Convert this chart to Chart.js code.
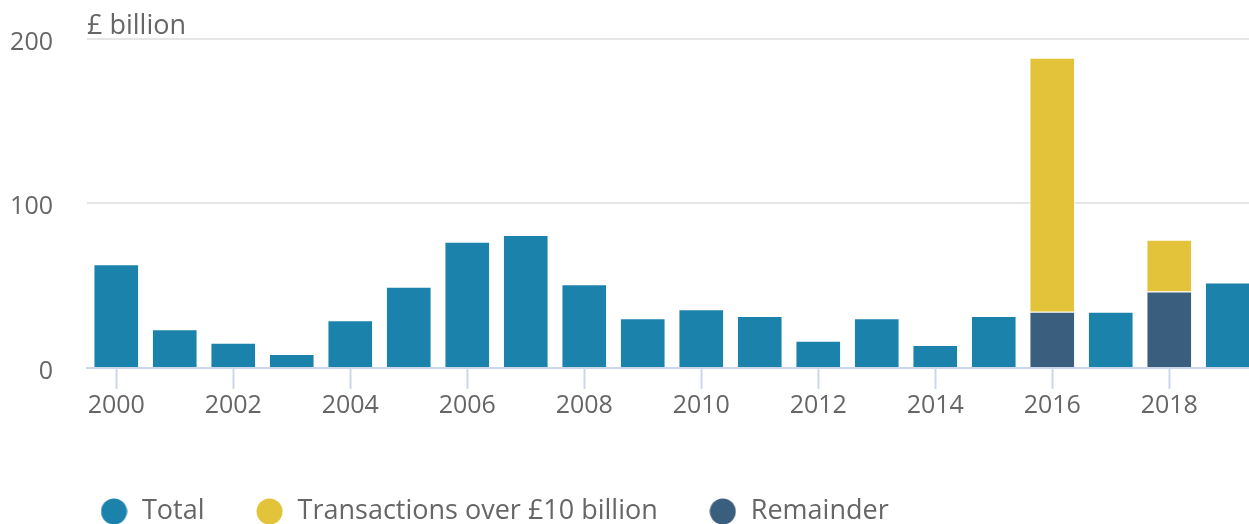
<!DOCTYPE html>
<html>
<head>
<meta charset="utf-8">
<title>£ billion</title>
<script src="https://cdn.jsdelivr.net/npm/chart.js@4.4.1/dist/chart.umd.min.js"></script>
<style>
    html, body { margin: 0; padding: 0; background: #fff; overflow: hidden; }
    #wrap { position: absolute; left: 0; top: 0; width: 1257px; height: 535px; }
</style>
</head>
<body>
<div id="wrap"><canvas id="dealsChart"></canvas></div>
<script>
// ===========================
// Data
// ===========================

const years = ['2000', '2001', '2002', '2003', '2004', '2005', '2006', '2007', '2008', '2009',
               '2010', '2011', '2012', '2013', '2014', '2015', '2016', '2017', '2018', '2019'];

const totalValues = [63, 23.5, 15.3, 8.5, 29, 49.3, 76.6, 80.7, 50.9, 30.2,
                     35.7, 31.6, 16.6, 30.2, 14, 31.6, null, 34.2, null, 51.9];

const bigDealValues = [null, null, null, null, null, null, null, null, null, null,
                       null, null, null, null, null, null, 154.1, null, 31.4, null];

const remainderValues = [null, null, null, null, null, null, null, null, null, null,
                         null, null, null, null, null, null, 34.2, null, 46.4, null];

const xTickLabels = ['2000', '2002', '2004', '2006', '2008', '2010', '2012', '2014', '2016', '2018'];
const yTickValues = [0, 100, 200];

// ===========================
// Chart
// ===========================

const FONT = "'Open Sans', 'Noto Sans', sans-serif";
const TEXT = '#666666';

// round legend marker as a small canvas, so the gap to the text can be wider
function dot(color) {
    const c = document.createElement('canvas');
    c.width = 27;
    c.height = 27;
    const g = c.getContext('2d');
    g.fillStyle = color;
    g.beginPath();
    g.arc(13.5, 13.5, 13, 0, Math.PI * 2);
    g.fill();
    return c;
}

// legend starts a bit in from the left edge, like the original
const legendShift = {
    id: 'legendShift',
    afterLayout(chart) {
        if (chart.legend) chart.legend.left = 49;
    }
};

const ctx = document.getElementById('dealsChart');

new Chart(ctx, {
    type: 'bar',
    data: {
        labels: years,
        datasets: [
            {
                label: 'Total',
                data: totalValues,
                backgroundColor: '#1b83ab',
                borderColor: 'rgba(255,255,255,0.7)',
                borderWidth: 1,
                order: 0
            },
            {
                label: 'Transactions over £10 billion',
                data: bigDealValues,
                backgroundColor: '#e3c33a',
                borderColor: 'rgba(255,255,255,0.7)',
                borderWidth: 1,
                order: 2
            },
            {
                label: 'Remainder',
                data: remainderValues,
                backgroundColor: '#3a5e7e',
                borderColor: 'rgba(255,255,255,0.7)',
                borderWidth: 1,
                order: 1
            }
        ]
    },
    plugins: [legendShift],
    options: {
        responsive: true,
        maintainAspectRatio: false,
        animation: false,
        layout: { autoPadding: false, padding: 0 },
        datasets: {
            bar: { barPercentage: 1, categoryPercentage: 0.78 }
        },
        plugins: {
            tooltip: { enabled: false },
            title: {
                display: true,
                text: '£ billion',
                align: 'start',
                fullSize: false,
                color: TEXT,
                font: { family: FONT, size: 27, weight: 'normal', lineHeight: 0.9 },
                padding: { top: 14, bottom: 0.2 }
            },
            legend: {
                display: true,
                position: 'bottom',
                align: 'start',
                labels: {
                    usePointStyle: true,
                    pointStyleWidth: 29,
                    boxHeight: 27,
                    padding: 50.5,
                    color: TEXT,
                    font: { family: FONT, size: 27 },
                    generateLabels: (chart) => Chart.defaults.plugins.legend.labels.generateLabels(chart)
                        .map(item => Object.assign(item, { pointStyle: dot(item.fillStyle) })),
                    sort: (a, b) => a.datasetIndex - b.datasetIndex
                }
            }
        },
        scales: {
            x: {
                stacked: true,
                grid: {
                    display: true,
                    drawOnChartArea: false,
                    drawTicks: true,
                    offset: false,
                    tickLength: 21,
                    tickWidth: 2,
                    tickColor: (c) => xTickLabels.includes(years[c.index]) ? '#ccd6eb' : 'rgba(0,0,0,0)'
                },
                border: { display: true, color: '#ccd6eb', width: 2 },
                ticks: {
                    autoSkip: false,
                    maxRotation: 0,
                    padding: 2,
                    color: TEXT,
                    font: { family: FONT, size: 25 },
                    callback: (v, i) => xTickLabels.includes(years[i]) ? years[i] : ''
                },
                afterFit: (scale) => { scale.height = 79.5; }
            },
            y: {
                stacked: true,
                min: yTickValues[0],
                max: yTickValues[yTickValues.length - 1],
                afterBuildTicks: (scale) => { scale.ticks = yTickValues.map(v => ({ value: v })); },
                grid: {
                    color: '#e6e6e6',
                    lineWidth: 2,
                    drawTicks: true,
                    tickLength: 34,
                    tickColor: 'rgba(0,0,0,0)'
                },
                border: { display: false },
                ticks: {
                    padding: 0,
                    labelOffset: 4,
                    color: TEXT,
                    font: { family: FONT, size: 25 }
                },
                afterFit: (scale) => { scale.width = 87; }
            }
        }
    }
});
</script>
</body>
</html>
